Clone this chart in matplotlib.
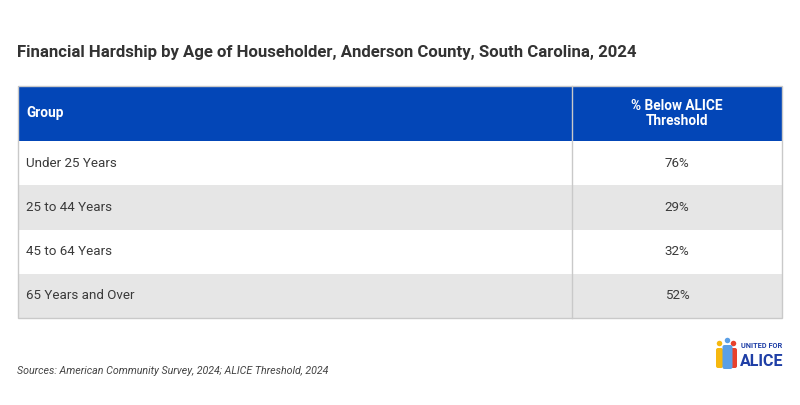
import matplotlib
matplotlib.use("Agg")
import matplotlib.pyplot as plt
from matplotlib.patches import Rectangle, Ellipse, FancyBboxPatch

plt.rcParams["font.family"] = ["Roboto", "DejaVu Sans"]

title = "Financial Hardship by Age of Householder, Anderson County, South Carolina, 2024"
col_headers = ["Group", "% Below ALICE\nThreshold"]
groups = ["Under 25 Years", "25 to 44 Years", "45 to 64 Years", "65 Years and Over"]
pct_below = [76, 29, 32, 52]
source = "Sources: American Community Survey, 2024; ALICE Threshold, 2024"

header_blue = "#0346B7"
row_gray = "#E6E6E6"
border = "#C9C9C9"
text_col = "#3A3A3A"

fig = plt.figure(figsize=(8, 4.05), dpi=100)
ax = fig.add_axes([0, 0, 1, 1])
ax.set_xlim(0, 800)
ax.set_ylim(405, 0)
ax.axis("off")

# title
ax.text(17, 53, title, fontsize=12.1, fontweight="bold", color="#333333",
        ha="left", va="center")

# table geometry (pixels)
left, right, split = 18, 782, 572
head_top, head_bot = 86, 141
row_h = 44.25

ax.add_patch(Rectangle((left, head_top), right - left, head_bot - head_top,
                       facecolor=header_blue, edgecolor="none"))
ax.text(26, (head_top + head_bot) / 2, col_headers[0], color="white",
        fontsize=9.8, fontweight="bold", ha="left", va="center")
ax.text((split + right) / 2, (head_top + head_bot) / 2, col_headers[1],
        color="white", fontsize=9.8, fontweight="bold", ha="center",
        va="center", linespacing=1.15)

for i, (g, v) in enumerate(zip(groups, pct_below)):
    y0 = head_bot + i * row_h
    fc = "white" if i % 2 == 0 else row_gray
    ax.add_patch(Rectangle((left, y0), right - left, row_h, facecolor=fc,
                           edgecolor="none"))
    ax.text(26, y0 + row_h / 2, g, fontsize=9.6, color=text_col,
            ha="left", va="center")
    ax.text((split + right) / 2, y0 + row_h / 2, f"{v}%", fontsize=9.6,
            color=text_col, ha="center", va="center")

table_bot = head_bot + len(groups) * row_h
ax.add_patch(Rectangle((left, head_top), right - left, table_bot - head_top,
                       facecolor="none", edgecolor=border, linewidth=1))
ax.plot([split, split], [head_top, table_bot], color=border, linewidth=1)

# source note
ax.text(17, 371, source, fontsize=7.7, style="italic", color="#444444",
        ha="left", va="center")

# logo: three figures + wordmark
for cx, top, h, w, c in [(719.5, 348, 20, 7, "#F6B80F"),
                         (733.5, 348, 20, 7, "#E8412C"),
                         (727.5, 345, 24, 10, "#5B9FE6")]:
    ax.add_patch(Ellipse((cx, top - 4.5), 5.5, 5.5, facecolor=c, edgecolor="none"))
    ax.add_patch(FancyBboxPatch((cx - w / 2, top), w, h,
                                boxstyle="round,pad=0,rounding_size=2",
                                facecolor=c, edgecolor="none"))
ax.text(741, 345.5, "UNITED FOR", fontsize=5.3, fontweight="bold",
        color="#1F3FA6", ha="left", va="center")
ax.text(740, 361, "ALICE", fontsize=11.5, fontweight="bold",
        color="#1F3FA6", ha="left", va="center")

fig.savefig("out.png", dpi=100, facecolor="white")
